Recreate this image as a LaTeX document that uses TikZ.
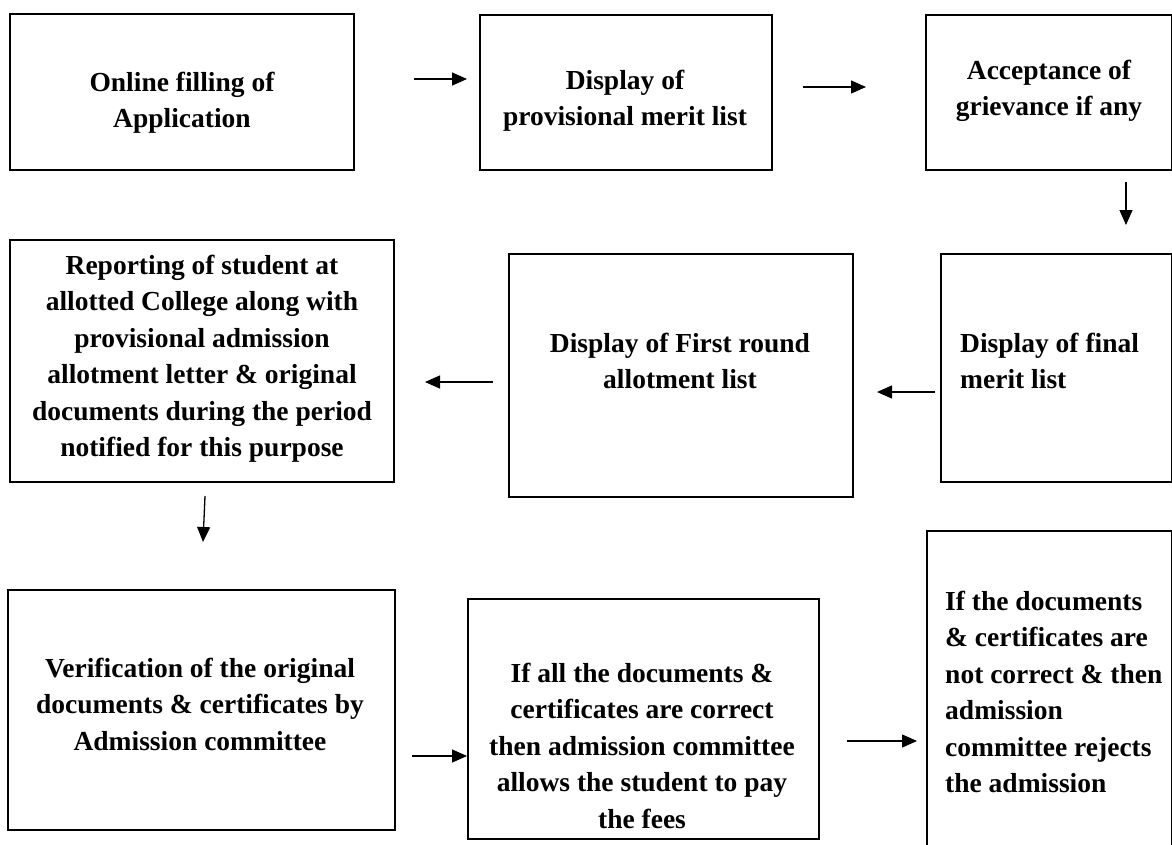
\documentclass[tikz,border=0pt]{standalone}
\usepackage{fontspec}
\setmainfont{Liberation Serif}
\usetikzlibrary{arrows.meta}
\begin{document}
\begin{tikzpicture}[x=1pt,y=-1pt,
  box/.style={draw, line width=1.6pt, inner sep=0pt, anchor=north west},
  arr/.style={line width=1.3pt, -{Triangle[length=15pt,width=13pt]}},
  ctext/.style={inner sep=0pt, anchor=base, font=\fontsize{27.5}{36.5}\selectfont\bfseries},
  ltext/.style={inner sep=0pt, anchor=base west, font=\fontsize{27.5}{36.5}\selectfont\bfseries}]
\useasboundingbox (0,0) rectangle (1172,844);
\fill[white] (0,0) rectangle (1172,844);
\clip (0,0) rectangle (1172,844);
% boxes
\node[box, minimum width=344pt, minimum height=156pt] (b1) at (9,13) {};
\node[box, minimum width=292pt, minimum height=155pt] (b2) at (479,14) {};
\node[box, minimum width=246pt, minimum height=155pt] (b3) at (925,14) {};
\node[box, minimum width=231pt, minimum height=228pt] (b4) at (940,253) {};
\node[box, minimum width=344pt, minimum height=243pt] (b5) at (508,253) {};
\node[box, minimum width=384pt, minimum height=242pt] (b6) at (9,239) {};
\node[box, minimum width=387pt, minimum height=240pt] (b7) at (7,589) {};
\node[box, minimum width=351pt, minimum height=240pt] (b8) at (467,598) {};
\node[box, minimum width=245pt, minimum height=320pt] (b9) at (926,530) {};
% texts
\node[ctext] (t1) at (182,91) {\parbox[t]{340pt}{\centering Online filling of\\Application}};
\node[ctext] (t2) at (625,89) {\parbox[t]{290pt}{\centering Display of\\provisional merit list}};
\node[ctext] (t3) at (1049,79) {\parbox[t]{240pt}{\centering Acceptance of\\grievance if any}};
\node[ltext] (t4) at (960,352) {\parbox[t]{210pt}{\raggedright Display of final\\merit list}};
\node[ctext] (t5) at (680,352) {\parbox[t]{340pt}{\centering Display of First round\\allotment list}};
\node[ctext] (t6) at (202,274) {\parbox[t]{380pt}{\centering Reporting of student at\\allotted College along with\\provisional admission\\allotment letter \& original\\documents during the period\\notified for this purpose}};
\node[ctext] (t7) at (200,677) {\parbox[t]{380pt}{\centering Verification of the original\\documents \& certificates by\\Admission committee}};
\node[ctext] (t8) at (642,682) {\parbox[t]{350pt}{\centering If all the documents \&\\certificates are correct\\then admission committee\\allows the student to pay\\the fees}};
\node[ltext] (t9) at (945,610) {\parbox[t]{226pt}{\raggedright If the documents\\\& certificates are\\not correct \& then\\admission\\committee rejects\\the admission}};
% arrow end points
\coordinate (a1s) at (414,79);  \coordinate (a1e) at (467,79);
\coordinate (a2s) at (803,87);  \coordinate (a2e) at (866,87);
\coordinate (a3s) at (1126,182); \coordinate (a3e) at (1126,225);
\coordinate (a4s) at (935,392); \coordinate (a4e) at (877,392);
\coordinate (a5s) at (493,382); \coordinate (a5e) at (425,382);
\coordinate (a6s) at (205,496); \coordinate (a6e) at (203,542);
\coordinate (a7s) at (412,756);
\coordinate (a8s) at (847,741); \coordinate (a8e) at (917,741);
% connectors
\draw[arr] (a1s) -- (a1e);
\draw[arr] (a2s) -- (a2e);
\draw[arr] (a3s) -- (a3e);
\draw[arr] (a4s) -- (a4e);
\draw[arr] (a5s) -- (a5e);
\draw[arr] (a6s) -- (a6e);
\draw[arr] (a7s) -- (b8.west |- a7s);
\draw[arr] (a8s) -- (a8e);
\end{tikzpicture}
\end{document}
